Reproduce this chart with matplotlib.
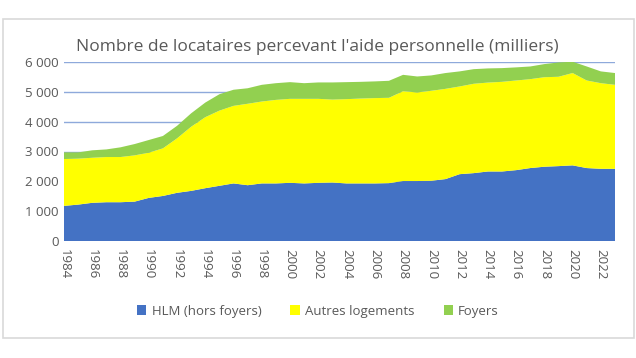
import matplotlib.pyplot as plt
from matplotlib.patches import Rectangle
from matplotlib.ticker import FuncFormatter

years = list(range(1984, 2024))

# cumulative tops (milliers)
hlm = [1177, 1220, 1280, 1300, 1300, 1320, 1445, 1510, 1615, 1680,
       1770, 1850, 1930, 1870, 1930, 1930, 1950, 1930, 1950, 1960,
       1930, 1930, 1930, 1940, 2010, 2010, 2020, 2075, 2240, 2275,
       2330, 2330, 2375, 2445, 2490, 2510, 2535, 2445, 2420, 2420]
top_autres = [2747, 2760, 2790, 2815, 2815, 2870, 2960, 3105, 3440, 3830,
              4150, 4370, 4530, 4600, 4675, 4730, 4765, 4765, 4765, 4740,
              4755, 4775, 4790, 4800, 5020, 4980, 5035, 5100, 5180, 5270,
              5310, 5335, 5380, 5425, 5490, 5505, 5630, 5380, 5290, 5235]
top_foyers = [2970, 2970, 3040, 3070, 3140, 3250, 3385, 3520, 3860, 4280,
              4640, 4920, 5070, 5120, 5235, 5290, 5325, 5290, 5315, 5315,
              5325, 5335, 5350, 5370, 5570, 5515, 5550, 5630, 5685, 5760,
              5785, 5795, 5820, 5850, 5930, 5985, 6010, 5850, 5685, 5630]

autres = [t - h for t, h in zip(top_autres, hlm)]
foyers = [t - a for t, a in zip(top_foyers, top_autres)]

plt.rcParams['font.family'] = ['Open Sans', 'DejaVu Sans']
grey = '#595959'

fig = plt.figure(figsize=(6.36, 3.58), dpi=100)
fig.patches.append(Rectangle((3 / 636, 1 - 338 / 358), 631 / 636, 319 / 358,
                             transform=fig.transFigure, fill=False,
                             edgecolor='#D9D9D9', linewidth=1.2))
ax = fig.add_axes([64 / 636, 1 - 241 / 358, 551 / 636, 179 / 358])

ax.stackplot(years, hlm, autres, foyers,
             colors=['#4472C4', '#FFFF00', '#92D050'],
             labels=['HLM (hors foyers)', 'Autres logements', 'Foyers'])

ax.set_xlim(1984, 2023)
ax.set_ylim(0, 6000)
ax.set_yticks(range(0, 6001, 1000))
ax.yaxis.set_major_formatter(FuncFormatter(lambda v, p: f"{int(v):,}".replace(",", " ")))
ax.set_xticks(range(1984, 2023, 2))
ax.set_xticklabels([str(y) for y in range(1984, 2023, 2)], rotation=270)
ax.tick_params(axis='both', colors=grey, labelsize=9.5, length=0)
ax.tick_params(axis='x', pad=6)
ax.tick_params(axis='y', pad=4)
ax.grid(axis='y', color='#8EA9DB', linewidth=1)
ax.set_axisbelow(True)
for s in ax.spines.values():
    s.set_visible(False)

fig.text(317 / 636, 1 - 47 / 358,
         "Nombre de locataires percevant l'aide personnelle (milliers)",
         ha='center', va='center', fontsize=12.5, color=grey)

fig.legend(loc='center', bbox_to_anchor=(318 / 636, 1 - 311 / 358), ncol=3,
           frameon=False, fontsize=9.5, labelcolor=grey, handlelength=0.7,
           handleheight=0.7, columnspacing=2.2, handletextpad=0.4)

fig.savefig('out.png', dpi=100)
